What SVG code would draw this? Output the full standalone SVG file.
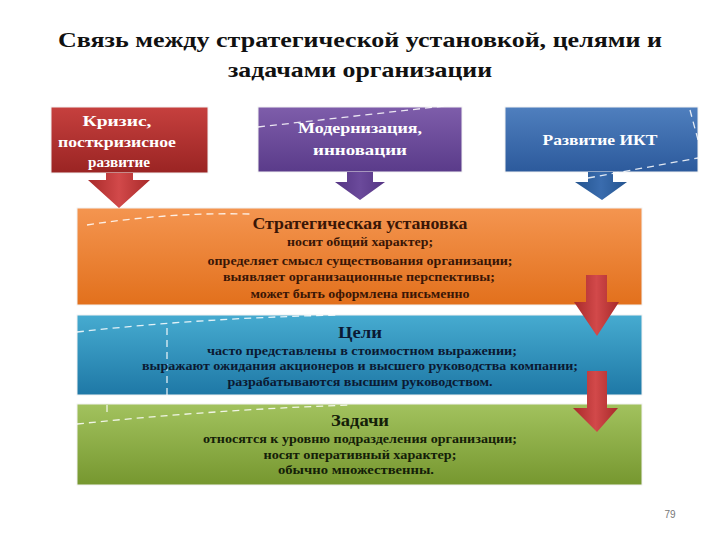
<svg xmlns="http://www.w3.org/2000/svg" width="720" height="540" viewBox="0 0 720 540">
<defs>
<linearGradient id="gRed" x1="0" y1="0" x2="0" y2="1"><stop offset="0" stop-color="#C6403E"/><stop offset="1" stop-color="#9A2423"/></linearGradient>
<linearGradient id="gPur" x1="0" y1="0" x2="0" y2="1"><stop offset="0" stop-color="#7E5DAA"/><stop offset="1" stop-color="#5A3B8A"/></linearGradient>
<linearGradient id="gBlu" x1="0" y1="0" x2="0" y2="1"><stop offset="0" stop-color="#4F7FBE"/><stop offset="1" stop-color="#2C5A9C"/></linearGradient>
<linearGradient id="gOra" x1="0" y1="0" x2="0" y2="1"><stop offset="0" stop-color="#F49550"/><stop offset="1" stop-color="#E2701C"/></linearGradient>
<linearGradient id="gCya" x1="0" y1="0" x2="0" y2="1"><stop offset="0" stop-color="#46ABD0"/><stop offset="1" stop-color="#1E78A6"/></linearGradient>
<linearGradient id="gGrn" x1="0" y1="0" x2="0" y2="1"><stop offset="0" stop-color="#A2C25E"/><stop offset="1" stop-color="#76972F"/></linearGradient>
<linearGradient id="gArR" x1="0" y1="0" x2="1" y2="0"><stop offset="0" stop-color="#A82A2A"/><stop offset="0.5" stop-color="#D2494A"/><stop offset="1" stop-color="#A82A2A"/></linearGradient>
<linearGradient id="gArP" x1="0" y1="0" x2="1" y2="0"><stop offset="0" stop-color="#553584"/><stop offset="0.5" stop-color="#6B4A9B"/><stop offset="1" stop-color="#553584"/></linearGradient>
<linearGradient id="gArB" x1="0" y1="0" x2="1" y2="0"><stop offset="0" stop-color="#24548F"/><stop offset="0.5" stop-color="#3A6CAE"/><stop offset="1" stop-color="#24548F"/></linearGradient>
</defs>
<style>
text{font-family:"Liberation Serif","Times New Roman",serif;font-weight:bold;text-anchor:middle}
.title{font-size:22px;fill:#111}
.top{font-size:15px;fill:#fff}
.hd{font-size:16px}
.ln{font-size:12px}
.or{fill:#3A1606}
.cy{fill:#0B1A33}
.gr{fill:#142008}
.dash{fill:none;stroke:#fff;stroke-width:1.3;stroke-dasharray:7 5;opacity:0.85}
.box{stroke:#f2f2f2;stroke-width:1}
</style>
<rect width="720" height="540" fill="#fff"/>
<g id="title">
<text class="title" x="360" y="47" textLength="604" lengthAdjust="spacingAndGlyphs">Связь между стратегической установкой, целями и</text>
<text class="title" x="360" y="77" textLength="264" lengthAdjust="spacingAndGlyphs">задачами организации</text>
</g>
<g id="node-crisis">
<rect class="box" x="51" y="107" width="157" height="66" fill="url(#gRed)"/>
<text class="top" x="117" y="126" textLength="69" lengthAdjust="spacingAndGlyphs">Кризис,</text>
<text class="top" x="117" y="147" textLength="118" lengthAdjust="spacingAndGlyphs">посткризисное</text>
<text class="top" x="119" y="167" textLength="62" lengthAdjust="spacingAndGlyphs">развитие</text>
</g>
<g id="node-modern">
<rect class="box" x="258" y="107" width="204" height="65" fill="url(#gPur)"/>
<path class="dash" d="M258 127 L462 104"/>
<text class="top" x="360" y="133" textLength="124" lengthAdjust="spacingAndGlyphs">Модернизация,</text>
<text class="top" x="360" y="155" textLength="94" lengthAdjust="spacingAndGlyphs">инновации</text>
</g>
<g id="node-ikt">
<rect class="box" x="505" y="107" width="193" height="65" fill="url(#gBlu)"/>
<path class="dash" d="M690 110 L698 140"/>
<text class="top" x="600" y="145" textLength="115" lengthAdjust="spacingAndGlyphs">Развитие ИКТ</text>
</g>
<g id="node-strategy">
<rect class="box" x="77" y="208" width="565" height="97" fill="url(#gOra)"/>
<path class="dash" d="M87 225 Q170 212 250 214" stroke-dasharray="3 6" stroke-width="2"/>
<text class="hd or" x="360" y="229" textLength="215" lengthAdjust="spacingAndGlyphs">Стратегическая установка</text>
<text class="ln or" x="360" y="246" textLength="146" lengthAdjust="spacingAndGlyphs">носит общий характер;</text>
<text class="ln or" x="360" y="265" textLength="305" lengthAdjust="spacingAndGlyphs">определяет смысл существования организации;</text>
<text class="ln or" x="359" y="281" textLength="272" lengthAdjust="spacingAndGlyphs">выявляет организационные перспективы;</text>
<text class="ln or" x="360" y="298" textLength="219" lengthAdjust="spacingAndGlyphs">может быть оформлена письменно</text>
</g>
<g id="node-goals">
<rect class="box" x="77" y="315" width="565" height="80" fill="url(#gCya)"/>
<path class="dash" d="M77 332 Q200 318 340 315"/>
<path class="dash" d="M167 328 L167 395" stroke-dasharray="4 9"/>
<text class="hd cy" x="360" y="338" textLength="44" lengthAdjust="spacingAndGlyphs">Цели</text>
<text class="ln cy" x="362" y="355" textLength="310" lengthAdjust="spacingAndGlyphs">часто представлены в стоимостном выражении;</text>
<text class="ln cy" x="360" y="370" textLength="436" lengthAdjust="spacingAndGlyphs">выражают ожидания акционеров и высшего руководства компании;</text>
<text class="ln cy" x="360" y="386" textLength="265" lengthAdjust="spacingAndGlyphs">разрабатываются высшим руководством.</text>
</g>
<g id="node-tasks">
<rect class="box" x="77" y="404" width="565" height="81" fill="url(#gGrn)"/>
<path class="dash" d="M77 424 Q210 410 350 405"/>
<path class="dash" d="M107 405 L107 416" stroke-dasharray="11 20"/>
<text class="hd gr" x="360" y="426" textLength="58" lengthAdjust="spacingAndGlyphs">Задачи</text>
<text class="ln gr" x="360" y="443" textLength="314" lengthAdjust="spacingAndGlyphs">относятся к уровню подразделения организации;</text>
<text class="ln gr" x="360" y="459" textLength="193" lengthAdjust="spacingAndGlyphs">носят оперативный характер;</text>
<text class="ln gr" x="356" y="474" textLength="156" lengthAdjust="spacingAndGlyphs">обычно множественны.</text>
</g>
<g id="connectors">
<path d="M106 173 H133 V180 H150 L119 208 L88 180 H106 Z" fill="url(#gArR)"/>
<path d="M347 172 H373 V182 H385 L360 200 L335 182 H347 Z" fill="url(#gArP)"/>
<path d="M588 172 H613 V182 H627 L602 200 L575 182 H588 Z" fill="url(#gArB)"/>
<path class="dash" d="M588 178 L698 158"/>
<path d="M586 275 H607 V302 H619 L597 336 L574 302 H586 Z" fill="url(#gArR)"/>
<path d="M587 371 H607 V408 H618 L597 432 L573 408 H587 Z" fill="url(#gArR)"/>
</g>
<text x="670" y="518" style="font-family:'Liberation Sans',Arial,sans-serif;font-weight:normal;font-size:10px;fill:#777">79</text>
</svg>
